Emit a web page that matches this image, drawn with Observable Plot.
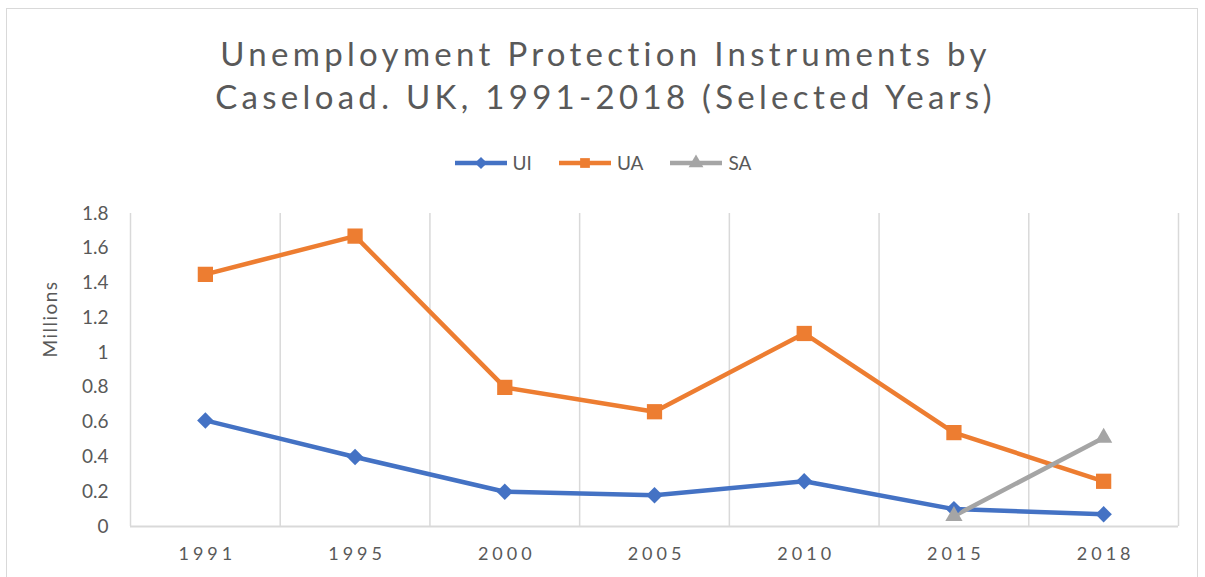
<!DOCTYPE html>
<html>
<head>
<meta charset="utf-8">
<script src="https://cdn.jsdelivr.net/npm/d3@7"></script>
<script src="https://cdn.jsdelivr.net/npm/@observablehq/plot@0.6"></script>
<style>
  html, body { margin: 0; padding: 0; background: #fff; width: 1205px; height: 577px; overflow: hidden; }
  #frame { position: absolute; left: 6px; top: 8px; width: 1192px; height: 620px; border: 1px solid #d9d9d9; box-sizing: border-box; }
  #title { position: absolute; left: 3px; top: 32px; width: 1205px; text-align: center; font-family: Lato, "Open Sans", sans-serif; font-size: 33px; line-height: 43px; color: #595959; letter-spacing: 4.3px; }
  #legend { position: absolute; left: 0; top: 151px; width: 1205px; display: flex; justify-content: center; gap: 26px; font-family: Lato, "Open Sans", sans-serif; font-size: 19px; color: #595959; }
  #legend .item { display: flex; align-items: center; gap: 5px; }
  #chart { position: absolute; left: 0; top: 190px; }
  #chart svg { overflow: visible; }
  #chart svg text.spaced { letter-spacing: 4px; }
  #chart svg text.spaced2 { letter-spacing: 1.5px; }
</style>
</head>
<body>
<div id="frame"></div>
<div id="title">Unemployment Protection Instruments by<br>Caseload. UK, 1991-2018 (Selected Years)</div>
<div id="legend"></div>
<div id="chart"></div>
<script>
const years = ["1991", "1995", "2000", "2005", "2010", "2015", "2018"];
const seriesNames = ["UI", "UA", "SA"];
const uiValues = [0.61, 0.40, 0.20, 0.18, 0.26, 0.10, 0.07];
const uaValues = [1.45, 1.67, 0.80, 0.66, 1.11, 0.54, 0.26];
const saValues = [null, null, null, null, null, 0.06, 0.51];
const yTicks = [0, 0.2, 0.4, 0.6, 0.8, 1, 1.2, 1.4, 1.6, 1.8];

const colors = {UI: "#4472c4", UA: "#ed7d31", SA: "#a5a5a5"};
const symbols = {UI: "diamond2", UA: "square", SA: "triangle"};
const radii = {UI: 7.4, UA: 8.6, SA: 6.4};

const rows = [];
[uiValues, uaValues, saValues].forEach((vals, s) => {
  vals.forEach((v, i) => { if (v != null) rows.push({series: seriesNames[s], i, year: years[i], value: v}); });
});

const marks = [
  Plot.ruleX(d3.range(years.length + 1), {x: d => d - 0.5, y1: 0, y2: 1.8, stroke: "#d9d9d9", strokeWidth: 1.5}),
  Plot.ruleY([0], {stroke: "#d9d9d9", strokeWidth: 2}),
];
for (const s of seriesNames) {
  const data = rows.filter(d => d.series === s);
  marks.push(Plot.line(data, {x: "i", y: "value", stroke: colors[s], strokeWidth: 4.5, curve: "linear"}));
}
for (const s of seriesNames) {
  const data = rows.filter(d => d.series === s);
  marks.push(Plot.dot(data, {x: "i", y: "value", symbol: () => symbols[s], fill: colors[s], stroke: "none", r: radii[s]}));
}
marks.push(Plot.axisY({ticks: yTicks, tickFormat: d => `${Math.round(d * 10) / 10}`, tickSize: 0, tickPadding: 22, fontSize: 19, fill: "#595959", label: null}));
marks.push(Plot.axisX({ticks: d3.range(years.length), tickFormat: i => years[i], tickSize: 0, tickPadding: 21, fontSize: 18, fill: "#595959", label: null, dx: 2, className: "xticks"}));
marks.push(Plot.text(["Millions"], {frameAnchor: "left", textAnchor: "middle", dx: -80, dy: -51, rotate: -90, fontSize: 19, fill: "#595959", className: "ylabel"}));

const chart = Plot.plot({
  width: 1205,
  height: 380,
  marginTop: 23,
  marginBottom: 44,
  marginLeft: 130,
  marginRight: 27,
  style: {fontFamily: "Lato, 'Open Sans', sans-serif", background: "transparent", overflow: "visible"},
  x: {type: "linear", domain: [-0.5, years.length - 0.5]},
  y: {domain: [0, 1.8]},
  symbol: {type: "identity"},
  marks
});
d3.select(chart).selectAll("text").each(function() {
  const t = this.textContent;
  if (years.includes(t)) { this.classList.add("spaced"); this.setAttribute("letter-spacing", "4"); this.style.letterSpacing = "4px"; }
  if (t === "Millions") { this.classList.add("spaced2"); this.setAttribute("letter-spacing", "1.5"); this.style.letterSpacing = "1.5px"; }
});
document.getElementById("chart").appendChild(chart);

// legend
const legend = d3.select("#legend");
for (const s of seriesNames) {
  const item = legend.append("div").attr("class", "item");
  const svg = item.append("svg").attr("width", 54).attr("height", 20);
  svg.append("line").attr("x1", 1).attr("x2", 53).attr("y1", 10).attr("y2", 10).attr("stroke", colors[s]).attr("stroke-width", 4.5);
  const sym = {UI: d3.symbolDiamond2, UA: d3.symbolSquare, SA: d3.symbolTriangle}[s];
  svg.append("path").attr("transform", "translate(27,10)").attr("d", d3.symbol(sym, Math.PI * 5.5 * 5.5)()).attr("fill", colors[s]);
  item.append("span").text(s);
}
</script>
</body>
</html>
